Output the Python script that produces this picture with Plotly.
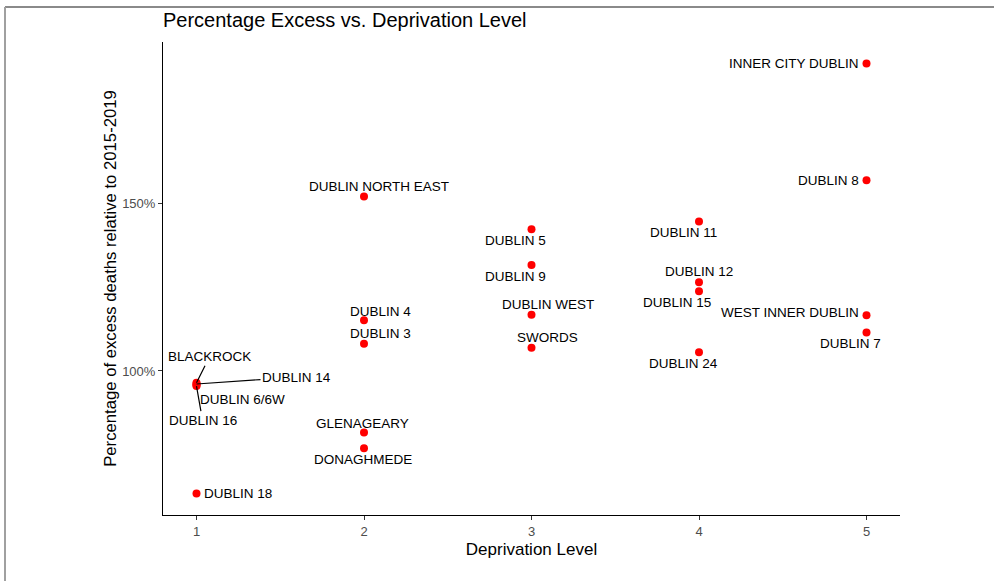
import plotly.graph_objects as go

# ---- data ----
areas = ["INNER CITY DUBLIN", "DUBLIN 8", "DUBLIN NORTH EAST", "DUBLIN 5", "DUBLIN 11",
         "DUBLIN 9", "DUBLIN 12", "DUBLIN 15", "WEST INNER DUBLIN", "DUBLIN WEST",
         "DUBLIN 4", "DUBLIN 7", "DUBLIN 3", "SWORDS", "DUBLIN 24",
         "BLACKROCK", "DUBLIN 14", "DUBLIN 6/6W", "DUBLIN 16",
         "GLENAGEARY", "DONAGHMEDE", "DUBLIN 18"]
deprivation = [5, 5, 2, 3, 4,
               3, 4, 4, 5, 3,
               2, 5, 2, 3, 4,
               1, 1, 1, 1,
               2, 2, 1]
excess_pct = [191.8, 156.9, 152.1, 142.3, 144.6,
              131.6, 126.5, 123.8, 116.6, 116.8,
              115.1, 111.5, 108.1, 106.9, 105.6,
              96.5, 96.1, 95.8, 95.5,
              81.6, 76.9, 63.4]
y_ticks = [100, 150]
y_tick_labels = ["100%", "150%"]
x_ticks = [1, 2, 3, 4, 5]

# label offsets (pixels) and anchors: (dx, dy, xanchor, line)
label_style = {
    "INNER CITY DUBLIN": (-6, 0, "right", False),
    "DUBLIN 8": (-6, 0, "right", False),
    "DUBLIN NORTH EAST": (15, -10, "center", False),
    "DUBLIN 5": (-16, 11, "center", False),
    "DUBLIN 11": (-16, 11, "center", False),
    "DUBLIN 9": (-16, 11, "center", False),
    "DUBLIN 12": (0, -11, "center", False),
    "DUBLIN 15": (-22, 11, "center", False),
    "WEST INNER DUBLIN": (-6, -3, "right", False),
    "DUBLIN WEST": (16, -10, "center", False),
    "DUBLIN 4": (16, -9, "center", False),
    "DUBLIN 7": (-16, 11, "center", False),
    "DUBLIN 3": (16, -10, "center", False),
    "SWORDS": (16, -10, "center", False),
    "DUBLIN 24": (-16, 11, "center", False),
    "BLACKROCK": (13, -26, "center", True),
    "DUBLIN 14": (100, -7, "center", True),
    "DUBLIN 6/6W": (46, 14, "center", False),
    "DUBLIN 16": (6, 34, "center", True),
    "GLENAGEARY": (-2, -9, "center", False),
    "DONAGHMEDE": (-1, 11, "center", False),
    "DUBLIN 18": (5, 0, "left", False),
}

label_font = dict(family="Liberation Sans, Arial", size=13.5, color="black")

fig = go.Figure()
fig.add_trace(go.Scatter(
    x=deprivation, y=excess_pct, mode="markers",
    marker=dict(color="#FF0000", size=8),
    text=areas, hoverinfo="text", showlegend=False,
))

annotations = []
for name, xv, yv in zip(areas, deprivation, excess_pct):
    dx, dy, anchor, line = label_style[name]
    if line:
        annotations.append(dict(
            x=xv, y=yv, xref="x", yref="y", text=name,
            showarrow=True, arrowhead=0, arrowwidth=1.2, arrowcolor="black",
            ax=dx, ay=dy, standoff=0, font=label_font,
        ))
    else:
        annotations.append(dict(
            x=xv, y=yv, xref="x", yref="y", text=name, showarrow=False,
            xanchor=anchor, yanchor="middle", xshift=dx, yshift=-dy,
            font=label_font,
        ))

fig.update_layout(
    width=994, height=581,
    margin=dict(l=163, r=94, t=42, b=66),
    paper_bgcolor="white", plot_bgcolor="white",
    font=dict(family="Liberation Sans, Arial", color="black"),
    title=dict(text="Percentage Excess vs. Deprivation Level",
               x=0, xref="paper", xanchor="left",
               y=1 - 20 / 581, yref="container", yanchor="middle",
               font=dict(size=20, color="black")),
    xaxis=dict(range=[0.8, 5.2], tickvals=x_ticks, showgrid=False, zeroline=False,
               showline=True, linecolor="black", linewidth=1,
               ticks="outside", ticklen=4, tickcolor="#333333",
               tickfont=dict(size=13, color="#4D4D4D"),
               title=dict(text="Deprivation Level", font=dict(size=17, color="black"),
                          standoff=5)),
    yaxis=dict(range=[57.0, 198.2], tickvals=y_ticks, ticktext=y_tick_labels,
               showgrid=False, zeroline=False, showline=True, linecolor="black",
               linewidth=1, ticks="outside", ticklen=4, tickcolor="#333333",
               tickfont=dict(size=13, color="#4D4D4D"),
               title=dict(text="Percentage of excess deaths relative to 2015-2019",
                          font=dict(size=16.7, color="black"), standoff=1)),
    annotations=annotations,
    shapes=[
        dict(type="line", xref="paper", yref="paper",
             x0=(5 - 163) / 737, x1=(994 - 163) / 737,
             y0=(515 - 7) / 473, y1=(515 - 7) / 473,
             line=dict(color="#8A8A8A", width=2)),
        dict(type="line", xref="paper", yref="paper",
             x0=(5 - 163) / 737, x1=(5 - 163) / 737,
             y0=(515 - 7) / 473, y1=(515 - 581) / 473,
             line=dict(color="#A0A0A0", width=2)),
    ],
)

fig.write_html("out.html", config={"displayModeBar": False},
               post_script="document.body.style.margin='0';document.body.style.overflow='hidden';")
